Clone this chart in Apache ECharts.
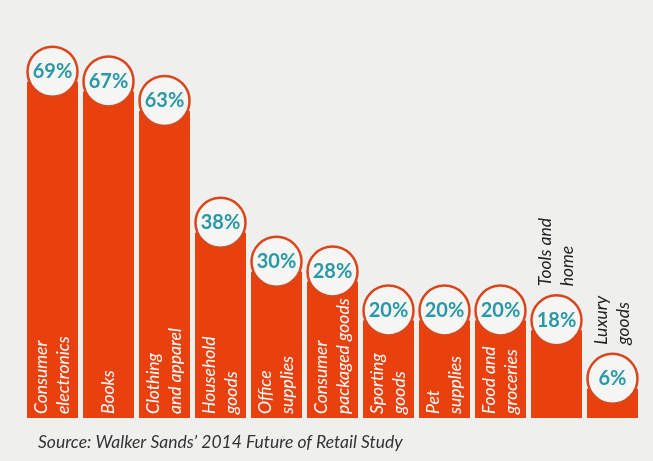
<!DOCTYPE html>
<html>
<head>
<meta charset="utf-8">
<script src="https://cdn.jsdelivr.net/npm/echarts@6/dist/echarts.min.js"></script>
<style>
  html, body { margin: 0; padding: 0; background: #efefee; }
  #chart { width: 653px; height: 461px; }
</style>
</head>
<body>
<div id="chart"></div>
<script>
// categories (line breaks as in the picture)
var categories = [
  'Consumer\nelectronics', 'Books', 'Clothing\nand apparel', 'Household\ngoods',
  'Office\nsupplies', 'Consumer\npackaged goods', 'Sporting\ngoods', 'Pet\nsupplies',
  'Food and\ngroceries', 'Tools and\nhome', 'Luxury\ngoods'
];
// share of shoppers, %
var shares = [69, 67, 63, 38, 30, 28, 20, 20, 20, 18, 6];
var sourceText = 'Source: Walker Sands\u2019 2014 Future of Retail Study';

var myChart = echarts.init(document.getElementById('chart'));

// short bars get their name above the circle, in dark text
var barData = shares.map(function (v) {
  if (v < 19) {
    return {
      value: v,
      label: { position: 'top', distance: 44, color: '#222' }
    };
  }
  return v;
});

var option = {
  backgroundColor: '#efefee',
  animation: false,
  title: {
    text: sourceText,
    left: 33,
    top: 428,
    textStyle: {
      fontFamily: 'Lato',
      fontStyle: 'italic',
      fontWeight: 'normal',
      fontSize: 17.5,
      color: '#333'
    }
  },
  grid: {
    left: 24.5,
    right: 12.5,
    top: 28,
    bottom: 43
  },
  xAxis: {
    type: 'category',
    data: categories,
    show: false
  },
  yAxis: {
    type: 'value',
    min: 0,
    max: 80,
    show: false
  },
  series: [
    {
      type: 'bar',
      data: barData,
      barWidth: 51,
      itemStyle: { color: '#e8410e' },
      label: {
        show: true,
        formatter: function (p) { return p.name; },
        position: 'insideBottom',
        distance: 4,
        rotate: 90,
        align: 'left',
        verticalAlign: 'middle',
        color: '#fff',
        fontFamily: 'Lato',
        fontStyle: 'italic',
        fontSize: 17.5,
        lineHeight: 22
      }
    },
    {
      // percentage badges sitting on the bar tops
      type: 'scatter',
      data: shares,
      symbol: 'circle',
      symbolSize: 50,
      symbolOffset: [0, -10],
      z: 5,
      itemStyle: {
        color: '#f5f5f3',
        borderColor: '#d9461c',
        borderWidth: 2.5,
        opacity: 1
      },
      label: {
        show: true,
        position: 'inside',
        formatter: '{c}%',
        color: '#2a98a6',
        fontFamily: 'Lato',
        fontWeight: 'bold',
        fontSize: 20
      }
    }
  ]
};

myChart.setOption(option);
</script>
</body>
</html>
